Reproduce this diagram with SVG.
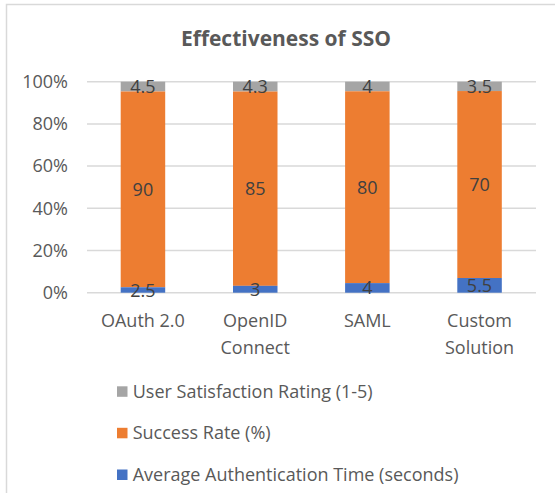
<svg xmlns="http://www.w3.org/2000/svg" width="555" height="493" viewBox="0 0 555 493">
  <style>
    text { font-family: "Open Sans", "Liberation Sans", sans-serif; font-size: 18px; fill: #595959; }
    .title { font-size: 21px; font-weight: 700; }
    .axis { text-anchor: end; }
    .cat { text-anchor: middle; }
    .val { text-anchor: middle; fill: #404040; }
    .grid { stroke: #D9D9D9; stroke-width: 1.5; }
    .sat { fill: #A5A5A5; }
    .rate { fill: #ED7D31; }
    .time { fill: #4472C4; }
  </style>

  <!-- chart area -->
  <rect x="0" y="0" width="555" height="493" fill="#FFFFFF"/>
  <rect x="6.5" y="4.5" width="560" height="500" fill="none" stroke="#D9D9D9" stroke-width="1.5"/>

  <g id="title">
    <text class="title" x="286" y="45.5" text-anchor="middle">Effectiveness of SSO</text>
  </g>

  <!-- horizontal gridlines, 0% .. 100% -->
  <g id="gridlines">
    <line class="grid" x1="87" y1="81.7" x2="536" y2="81.7"/>
    <line class="grid" x1="87" y1="123.9" x2="536" y2="123.9"/>
    <line class="grid" x1="87" y1="166.1" x2="536" y2="166.1"/>
    <line class="grid" x1="87" y1="208.3" x2="536" y2="208.3"/>
    <line class="grid" x1="87" y1="250.5" x2="536" y2="250.5"/>
    <line class="grid" x1="87" y1="292.7" x2="536" y2="292.7"/>
  </g>

  <g id="value-axis">
    <text class="axis" x="68" y="88">100%</text>
    <text class="axis" x="68" y="130.2">80%</text>
    <text class="axis" x="68" y="172.4">60%</text>
    <text class="axis" x="68" y="214.6">40%</text>
    <text class="axis" x="68" y="256.8">20%</text>
    <text class="axis" x="68" y="299">0%</text>
  </g>

  <!-- stacked columns, each normalised to 100% -->
  <g id="bar-oauth">
    <rect class="sat" x="120.7" y="81.7" width="44.5" height="9.79"/>
    <rect class="rate" x="120.7" y="91.49" width="44.5" height="195.77"/>
    <rect class="time" x="120.7" y="287.26" width="44.5" height="5.44"/>
    <text class="val" x="142.9" y="93.1">4.5</text>
    <text class="val" x="142.9" y="195.9">90</text>
    <text class="val" x="142.9" y="296.5">2.5</text>
  </g>
  <g id="bar-openid">
    <rect class="sat" x="233" y="81.7" width="44.5" height="9.83"/>
    <rect class="rate" x="233" y="91.53" width="44.5" height="194.31"/>
    <rect class="time" x="233" y="285.84" width="44.5" height="6.86"/>
    <text class="val" x="255.2" y="93.1">4.3</text>
    <text class="val" x="255.2" y="195.2">85</text>
    <text class="val" x="255.2" y="295.8">3</text>
  </g>
  <g id="bar-saml">
    <rect class="sat" x="345.1" y="81.7" width="44.5" height="9.59"/>
    <rect class="rate" x="345.1" y="91.29" width="44.5" height="191.82"/>
    <rect class="time" x="345.1" y="283.11" width="44.5" height="9.59"/>
    <text class="val" x="367.3" y="93">4</text>
    <text class="val" x="367.3" y="193.7">80</text>
    <text class="val" x="367.3" y="294.4">4</text>
  </g>
  <g id="bar-custom">
    <rect class="sat" x="457.3" y="81.7" width="44.5" height="9.35"/>
    <rect class="rate" x="457.3" y="91.05" width="44.5" height="186.96"/>
    <rect class="time" x="457.3" y="278.01" width="44.5" height="14.69"/>
    <text class="val" x="479.5" y="92.9">3.5</text>
    <text class="val" x="479.5" y="191">70</text>
    <text class="val" x="479.5" y="291.9">5.5</text>
  </g>

  <g id="category-axis">
    <text class="cat" x="142.9" y="327">OAuth 2.0</text>
    <text class="cat" x="255.2" y="327">OpenID</text>
    <text class="cat" x="255.2" y="353.5">Connect</text>
    <text class="cat" x="367.3" y="327">SAML</text>
    <text class="cat" x="479.5" y="327">Custom</text>
    <text class="cat" x="479.5" y="353.5">Solution</text>
  </g>

  <g id="legend">
    <rect class="sat" x="117" y="386.3" width="10.5" height="10.5"/>
    <text x="132.7" y="397.7">User Satisfaction Rating (1-5)</text>
    <rect class="rate" x="117" y="427.8" width="10.5" height="10.5"/>
    <text x="132.7" y="439.2">Success Rate (%)</text>
    <rect class="time" x="117" y="469.5" width="10.5" height="10.5"/>
    <text x="132.7" y="481">Average Authentication Time (seconds)</text>
  </g>
</svg>
